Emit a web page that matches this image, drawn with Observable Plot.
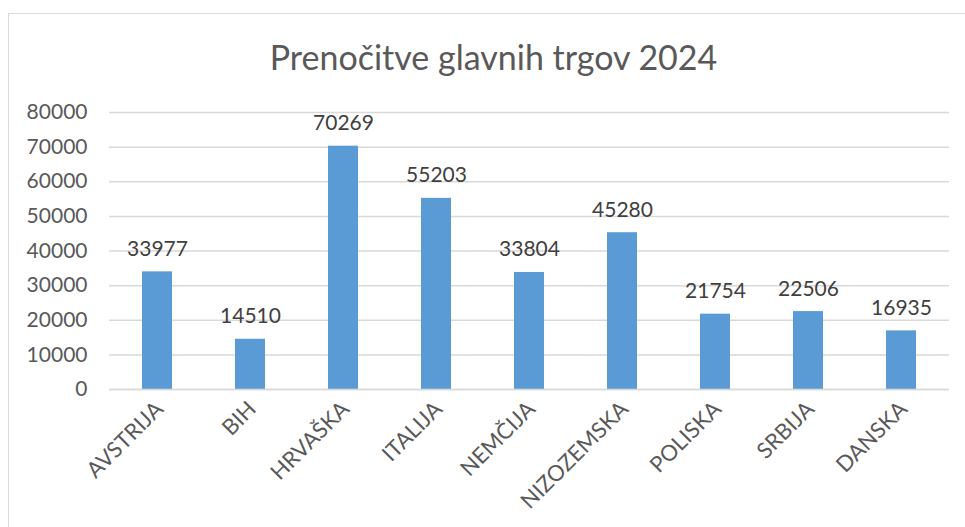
<!DOCTYPE html>
<html>
<head>
<meta charset="utf-8">
<script src="https://cdn.jsdelivr.net/npm/d3@7"></script>
<script src="https://cdn.jsdelivr.net/npm/@observablehq/plot@0.6"></script>
<style>
  html, body { margin: 0; padding: 0; background: #fff; }
  #wrap { position: relative; width: 965px; height: 527px; overflow: hidden; font-family: Lato, "Open Sans", sans-serif; }
  #frame { position: absolute; left: 8px; top: 13px; width: 970px; height: 530px; border: 1.5px solid #d9d9d9; box-sizing: border-box; }
  #title { position: absolute; left: 15px; width: 957px; top: 35px; text-align: center; font-size: 34px; color: #595959; line-height: 44px; }
  #chart { position: absolute; left: 0; top: 0; }
</style>
</head>
<body>
<div id="wrap">
  <div id="frame"></div>
  <div id="title">Prenočitve glavnih trgov 2024</div>
  <div id="chart"></div>
</div>
<script>
const categories = ["AVSTRIJA", "BIH", "HRVAŠKA", "ITALIJA", "NEMČIJA", "NIZOZEMSKA", "POLISKA", "SRBIJA", "DANSKA"];
const values = [33977, 14510, 70269, 55203, 33804, 45280, 21754, 22506, 16935];
const yTicks = [0, 10000, 20000, 30000, 40000, 50000, 60000, 70000, 80000];

const data = categories.map((c, i) => ({country: c, value: values[i]}));

const plot = Plot.plot({
  width: 965,
  height: 527,
  marginTop: 112,
  marginBottom: 138,
  marginLeft: 109,
  marginRight: 16,
  style: { fontFamily: "Lato, 'Open Sans', sans-serif", fontSize: "21px", color: "#595959", background: "transparent", overflow: "visible" },
  x: { domain: categories, paddingInner: 0.68, paddingOuter: 0.34, label: null },
  y: { domain: [0, 80000], label: null },
  marks: [
    Plot.ruleY(yTicks, { stroke: "#d9d9d9", strokeWidth: 1.5 }),
    Plot.barY(data, { x: "country", y: "value", fill: "#5B9BD5" }),
    Plot.ruleY([0], { stroke: "#d9d9d9", strokeWidth: 1.5 }),
    Plot.text(data, { x: "country", y: "value", text: d => String(d.value), lineAnchor: "bottom", dy: -16, fill: "#404040", fontSize: 21 }),
    Plot.axisY({ ticks: yTicks, tickFormat: d => String(d), tickSize: 0, tickPadding: 22, fill: "#595959", fontSize: 21 }),
    Plot.axisX({ tickSize: 0, tickPadding: 16, tickRotate: -45, dx: 2, fill: "#595959", fontSize: 22 })
  ]
});
document.getElementById("chart").appendChild(plot);
</script>
</body>
</html>
